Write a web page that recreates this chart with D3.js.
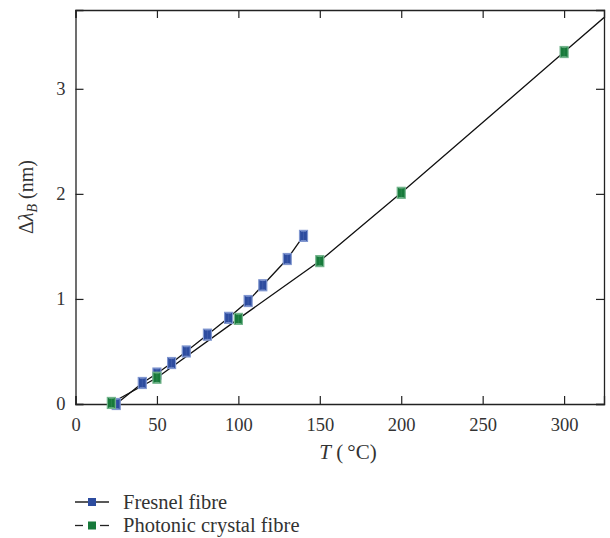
<!DOCTYPE html>
<html lang="en">
<head>
<meta charset="UTF-8">
<title>Bragg wavelength shift vs temperature</title>
<script src="https://cdnjs.cloudflare.com/ajax/libs/d3/7.8.5/d3.min.js"></script>
<style>
    body { margin: 0; background: #fff; font-family: "Liberation Serif", "Times New Roman", serif; }
    svg text { font-family: "Liberation Serif", "Times New Roman", serif; }
    .tick text { font-size: 18.5px; fill: #333; }
    .tick line, .domain { stroke: #222; }
</style>
</head>
<body>
<div id="chart"></div>
<script>
// Fresnel fibre
const fresnelT = [25, 41, 50, 59, 68, 81, 94, 106, 115, 130, 140];
const fresnelShift = [0.0, 0.2, 0.29, 0.39, 0.5, 0.66, 0.82, 0.98, 1.13, 1.38, 1.6];
// Photonic crystal fibre
const pcfT = [22, 50, 100, 150, 200, 300];
const pcfShift = [0.01, 0.25, 0.81, 1.36, 2.01, 3.35];
const errBar = 0.045;

const xTicks = [0, 50, 100, 150, 200, 250, 300];
const yTicks = [0, 1, 2, 3];

const seriesNames = ['Fresnel fibre', 'Photonic crystal fibre'];
const fills = ['#2d4c9f', '#177a3b'];
const edges = ['#8197d0', '#74b58d'];

const serif = '"Liberation Serif", "Times New Roman", serif';

function renderChart() {
    const W = 610, H = 538;
    const margin = {top: 10, right: 6, bottom: 134, left: 75.5};
    const width = W - margin.left - margin.right;
    const height = H - margin.top - margin.bottom;

    const svg = d3.select('#chart').append('svg')
        .attr('width', W).attr('height', H)
        .attr('font-family', serif);

    const g = svg.append('g')
        .attr('transform', `translate(${margin.left},${margin.top})`);

    const x = d3.scaleLinear().domain([0, 324.5]).range([0, width]);
    const y = d3.scaleLinear().domain([0, 3.75]).range([height, 0]);

    // axes (ticks pointing inward on all four sides)
    g.append('g')
        .attr('transform', `translate(0,${height})`)
        .call(d3.axisBottom(x).tickValues(xTicks).tickSize(-8).tickPadding(14).tickFormat(d3.format('d')));
    g.append('g')
        .call(d3.axisTop(x).tickValues(xTicks).tickSize(-8).tickFormat(''));
    g.append('g')
        .call(d3.axisLeft(y).tickValues(yTicks).tickSize(-8).tickPadding(10).tickFormat(d3.format('d')));
    g.append('g')
        .attr('transform', `translate(${width},0)`)
        .call(d3.axisRight(y).tickValues(yTicks).tickSize(-8).tickFormat(''));
    g.selectAll('g').attr('font-family', serif).attr('font-size', null);
    g.selectAll('.domain').attr('stroke-width', 1.3);
    g.selectAll('.tick line').attr('stroke-width', 1.2);

    // axis labels
    const xl = svg.append('text')
        .attr('x', 348).attr('y', 459)
        .attr('text-anchor', 'middle')
        .style('font-size', '21px').attr('fill', '#333');
    xl.append('tspan').attr('font-style', 'italic').text('T');
    xl.append('tspan').text(' (\u2009°C)');

    const yl = svg.append('text')
        .attr('transform', 'translate(33,197) rotate(-90)')
        .attr('text-anchor', 'middle')
        .style('font-size', '20px').attr('fill', '#333');
    yl.append('tspan').text('Δ');
    yl.append('tspan').attr('font-style', 'italic').text('λ');
    yl.append('tspan').attr('font-style', 'italic').attr('font-size', '14px').attr('dy', 4).text('B');
    yl.append('tspan').attr('dy', -4).text(' (nm)');

    svg.append('clipPath').attr('id', 'plot-clip')
        .append('rect').attr('width', width).attr('height', height);

    const line = d3.line().x(d => x(d[0])).y(d => y(d[1]));

    const fresnel = fresnelT.map((t, i) => [t, fresnelShift[i]]);
    const pcf = pcfT.map((t, i) => [t, pcfShift[i]]);
    // PCF line carries on past the last point to the frame
    const n = pcf.length;
    const slope = (pcf[n - 1][1] - pcf[n - 2][1]) / (pcf[n - 1][0] - pcf[n - 2][0]);
    const xEnd = x.domain()[1];
    const pcfLine = pcf.concat([[xEnd, pcf[n - 1][1] + slope * (xEnd - pcf[n - 1][0])]]);

    const lines = g.append('g').attr('clip-path', 'url(#plot-clip)');
    lines.append('path').datum(fresnel).attr('d', line)
        .attr('fill', 'none').attr('stroke', '#111').attr('stroke-width', 1.3);
    lines.append('path').datum(pcfLine).attr('d', line)
        .attr('fill', 'none').attr('stroke', '#111').attr('stroke-width', 1.3);

    function drawMarkers(data, k) {
        const m = g.append('g').selectAll('g').data(data).enter().append('g')
            .attr('transform', d => `translate(${x(d[0])},${y(d[1])})`);
        m.append('rect')
            .attr('x', -4).attr('y', -5.5).attr('width', 8).attr('height', 11)
            .attr('fill', fills[k]).attr('stroke', edges[k]).attr('stroke-width', 1.2);
        const e = y(0) - y(errBar);
        m.append('path')
            .attr('d', `M-2.5,${-e}H2.5M-2.5,${e}H2.5`)
            .attr('fill', 'none').attr('stroke', edges[k]).attr('stroke-width', 1)
            .attr('opacity', 0.9);
        m.append('path')
            .attr('d', `M0,${-e}V${e}`)
            .attr('fill', 'none').attr('stroke', edges[k]).attr('stroke-width', 0.6)
            .attr('opacity', 0.35);
    }
    drawMarkers(fresnel, 0);
    drawMarkers(pcf, 1);

    // legend
    const legend = svg.append('g');
    seriesNames.forEach((name, k) => {
        const ly = 502 + k * 23.5;
        const item = legend.append('g').attr('transform', `translate(75,${ly})`);
        if (k === 0) {
            item.append('line').attr('x1', 0).attr('x2', 34).attr('y1', 0).attr('y2', 0)
                .attr('stroke', '#222').attr('stroke-width', 1.3);
        } else {
            item.append('line').attr('x1', 0).attr('x2', 8).attr('y1', 0).attr('y2', 0)
                .attr('stroke', '#222').attr('stroke-width', 1.3);
            item.append('line').attr('x1', 25).attr('x2', 34).attr('y1', 0).attr('y2', 0)
                .attr('stroke', '#222').attr('stroke-width', 1.3);
        }
        item.append('rect').attr('x', 13).attr('y', -4).attr('width', 8).attr('height', 8)
            .attr('fill', fills[k]);
        item.append('text').attr('x', 48).attr('y', 6.5)
            .style('font-size', '20.5px').attr('fill', '#333').text(name);
    });
}

renderChart();
</script>
</body>
</html>
